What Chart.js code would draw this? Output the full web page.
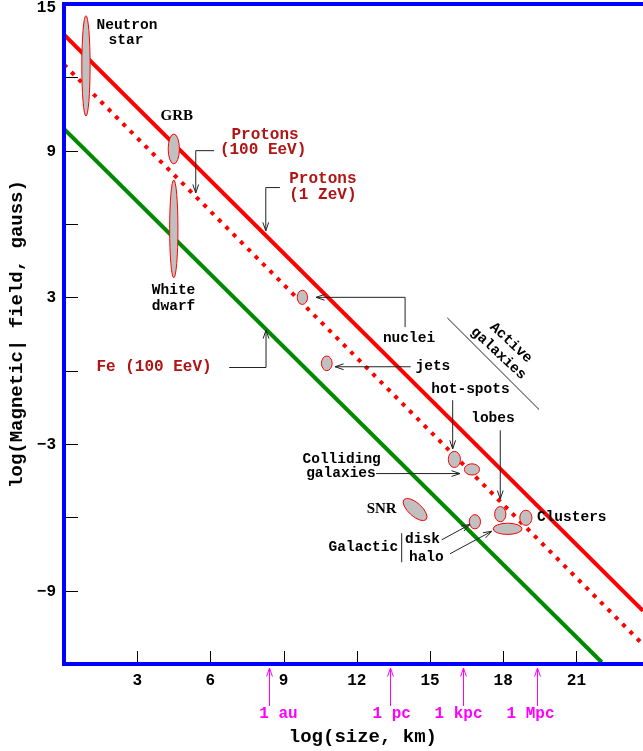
<!DOCTYPE html>
<html>
<head>
<meta charset="utf-8">
<script src="https://cdn.jsdelivr.net/npm/chart.js@4.4.0/dist/chart.umd.min.js"></script>
<style>
  html, body { margin: 0; padding: 0; background: #fff; }
  #wrap { width: 643px; height: 751px; }
</style>
</head>
<body>
<div id="wrap"><canvas id="hillas" width="643" height="751"></canvas></div>
<script>
// Hillas plot: log(size, km) vs log(B, gauss)

// maximum-energy lines (end points)
const protons1ZeVX = [0, 23.73];
const protons1ZeVY = [13.75, -9.82];
const protons100EeVX = [0, 23.73];
const protons100EeVY = [12.52, -11.2];
const fe100EeVX = [0, 22.04];
const fe100EeVY = [9.89, -11.93];

// source classes: centre and half extent
const sourceNames = ['Neutron star', 'GRB', 'White dwarf', 'AGN nuclei', 'AGN jets', 'hot-spots',
  'Colliding galaxies', 'lobes', 'Clusters', 'Galactic disk', 'Galactic halo', 'SNR'];
const sourceSize = [0.90, 4.50, 4.50, 9.77, 10.77, 16.00, 16.72, 17.88, 18.93, 16.84, 18.18, 14.39];
const sourceField = [12.47, 9.07, 5.80, 3.00, 0.30, -3.63, -4.04, -5.87, -6.02, -6.18, -6.47, -5.68];
const sourceSizeSpread = [0.17, 0.23, 0.17, 0.21, 0.22, 0.25, 0.31, 0.23, 0.25, 0.23, 0.59, 0.61];
const sourceFieldSpread = [2.05, 0.61, 2.0, 0.29, 0.30, 0.33, 0.23, 0.31, 0.31, 0.29, 0.23, 0.27];
const sourceTilt = [0, 0, 0, 0, 0, 0, 0, 0, 0, 0, 0, 42];

// reference lengths marked under the axis
const refNames = ['1 au', '1 pc', '1 kpc', '1 Mpc'];
const refSize = [8.41, 13.36, 16.37, 19.39];
const refLabelSize = [8.79, 13.43, 16.17, 19.12];

// ticks
const xTickValues = [3, 6, 9, 12, 15, 18, 21];
const yTickValues = [15, 12, 9, 6, 3, 0, -3, -6, -9];
const yTickLabels = [15, 9, 3, -3, -9];

const MONO = '"Liberation Mono", "DejaVu Sans Mono", monospace';
const SERIF = '"Liberation Serif", "DejaVu Serif", serif';
const DARKRED = '#b01414';

// text annotations (placed in data units)
const notes = [
  { t: 'Neutron', x: 2.58, y: 14.13 }, { t: 'star', x: 2.54, y: 13.52 },
  { t: 'GRB', x: 4.62, y: 10.40, serif: true },
  { t: 'White', x: 4.49, y: 3.30 }, { t: 'dwarf', x: 4.49, y: 2.64 },
  { t: 'nuclei', x: 14.14, y: 1.32 }, { t: 'jets', x: 15.12, y: 0.16 },
  { t: 'hot-spots', x: 16.66, y: -0.76 }, { t: 'lobes', x: 17.58, y: -1.96 },
  { t: 'Colliding', x: 11.38, y: -3.64 }, { t: 'galaxies', x: 11.35, y: -4.21 },
  { t: 'SNR', x: 13.02, y: -5.68, serif: true },
  { t: 'Clusters', x: 20.81, y: -6.02 },
  { t: 'Galactic', x: 12.27, y: -7.22 }, { t: 'disk', x: 14.69, y: -6.92 }, { t: 'halo', x: 14.85, y: -7.63 },
  { t: 'Protons', x: 8.24, y: 9.65, red: true }, { t: '(100 EeV)', x: 8.16, y: 9.04, red: true },
  { t: 'Protons', x: 10.61, y: 7.84, red: true }, { t: '(1 ZeV)', x: 10.61, y: 7.19, red: true },
  { t: 'Fe (100 EeV)', x: 3.69, y: 0.16, red: true },
  { t: 'Active', x: 18.31, y: 1.14, rot: 43 }, { t: 'galaxies', x: 17.80, y: 0.70, rot: 43 }
];

// pointer lines (data units), arrow head at last point
const pointers = [
  { pts: [[6.15, 9.0], [5.40, 9.0], [5.40, 7.27]], head: true },
  { pts: [[8.85, 7.49], [8.27, 7.49], [8.27, 5.72]], head: true },
  { pts: [[6.77, 0.13], [8.28, 0.13], [8.28, 1.66]], head: true },
  { pts: [[13.98, 1.78], [13.98, 3.0], [10.33, 3.0]], head: true },
  { pts: [[14.21, 0.16], [11.11, 0.16]], head: true },
  { pts: [[15.93, -1.21], [15.93, -3.2]], head: true },
  { pts: [[17.88, -2.44], [17.88, -5.25]], head: true },
  { pts: [[12.79, -4.21], [16.23, -4.21]], head: true },
  { pts: [[15.48, -6.92], [16.64, -6.29]], head: true },
  { pts: [[15.82, -7.49], [17.53, -6.57]], head: true },
  { pts: [[13.84, -6.65], [13.84, -7.84]], head: false },
  { pts: [[15.71, 2.16], [19.47, -1.59]], head: false }
];

function toPts(xs, ys) {
  return xs.map((v, i) => ({ x: v, y: ys[i] }));
}

function drawArrow(ctx, pts, head) {
  ctx.beginPath();
  ctx.moveTo(pts[0][0], pts[0][1]);
  for (let i = 1; i < pts.length; i++) ctx.lineTo(pts[i][0], pts[i][1]);
  ctx.stroke();
  if (!head) return;
  const [x1, y1] = pts[pts.length - 2];
  const [x2, y2] = pts[pts.length - 1];
  const a = Math.atan2(y2 - y1, x2 - x1);
  ctx.beginPath();
  ctx.moveTo(x2 - 9 * Math.cos(a - 0.33), y2 - 9 * Math.sin(a - 0.33));
  ctx.lineTo(x2, y2);
  ctx.lineTo(x2 - 9 * Math.cos(a + 0.33), y2 - 9 * Math.sin(a + 0.33));
  ctx.stroke();
}

const hillasOverlay = {
  id: 'hillasOverlay',
  afterDatasetsDraw(chart) {
    const { ctx, chartArea: area, scales: { x, y } } = chart;
    const px = v => x.getPixelForValue(v);
    const py = v => y.getPixelForValue(v);
    const ux = px(1) - px(0);
    const uy = py(0) - py(1);
    ctx.save();

    // sources
    sourceNames.forEach((n, i) => {
      ctx.beginPath();
      ctx.ellipse(px(sourceSize[i]), py(sourceField[i]), sourceSizeSpread[i] * ux,
        sourceFieldSpread[i] * uy, sourceTilt[i] * Math.PI / 180, 0, 2 * Math.PI);
      ctx.fillStyle = '#c0c0c0';
      ctx.fill();
      ctx.strokeStyle = '#ff0000';
      ctx.lineWidth = 1;
      ctx.stroke();
    });

    // pointers
    ctx.strokeStyle = '#222';
    ctx.lineWidth = 1;
    pointers.forEach(p => {
      drawArrow(ctx, p.pts.map(q => [px(q[0]), py(q[1])]), p.head);
    });

    // labels
    ctx.textAlign = 'center';
    ctx.textBaseline = 'middle';
    notes.forEach(n => {
      ctx.save();
      ctx.translate(px(n.x), py(n.y));
      if (n.rot) ctx.rotate(n.rot * Math.PI / 180);
      if (n.serif) ctx.font = 'bold 15px ' + SERIF;
      else if (n.red) ctx.font = 'bold 16px ' + MONO;
      else ctx.font = 'bold 14.5px ' + MONO;
      ctx.fillStyle = n.red ? DARKRED : '#000';
      ctx.fillText(n.t, 0, 0);
      ctx.restore();
    });

    // inner tick marks
    ctx.strokeStyle = '#000';
    ctx.lineWidth = 1;
    ctx.beginPath();
    yTickValues.forEach(v => {
      if (v >= 15) return;
      const yy = Math.round(py(v)) + 0.5;
      ctx.moveTo(area.left, yy);
      ctx.lineTo(area.left + 14, yy);
    });
    xTickValues.forEach(v => {
      const xx = Math.round(px(v)) + 0.5;
      ctx.moveTo(xx, area.bottom);
      ctx.lineTo(xx, area.bottom - 13);
    });
    ctx.stroke();

    // y tick labels
    ctx.font = 'bold 16px ' + MONO;
    ctx.fillStyle = '#000';
    ctx.textAlign = 'right';
    yTickLabels.forEach(v => {
      const yy = Math.max(py(v) + 1, area.top + 4);
      ctx.fillText(v < 0 ? '\u2212' + Math.abs(v) : String(v), area.left - 8, yy);
    });

    // blue frame
    ctx.strokeStyle = '#0000ff';
    ctx.lineWidth = 4;
    ctx.beginPath();
    ctx.moveTo(area.right + 2, area.top);
    ctx.lineTo(area.left, area.top);
    ctx.lineTo(area.left, area.bottom);
    ctx.lineTo(area.right + 2, area.bottom);
    ctx.stroke();

    // reference lengths
    ctx.strokeStyle = '#ff00ff';
    ctx.fillStyle = '#ff00ff';
    ctx.lineWidth = 1;
    ctx.font = 'bold 16px ' + MONO;
    ctx.textAlign = 'center';
    refNames.forEach((n, i) => {
      const xx = Math.round(px(refSize[i])) + 0.5;
      drawArrow(ctx, [[xx, area.bottom + 42], [xx, area.bottom + 4]], true);
      ctx.fillText(n, px(refLabelSize[i]), area.bottom + 50);
    });

    // x axis title
    ctx.fillStyle = '#000';
    ctx.font = 'bold 19px ' + MONO;
    ctx.fillText('log(size, km)', px(12.25), area.bottom + 73);
    ctx.restore();
  }
};

new Chart(document.getElementById('hillas'), {
  type: 'scatter',
  data: {
    datasets: [
      { label: 'Protons (1 ZeV)', data: toPts(protons1ZeVX, protons1ZeVY), showLine: true,
        borderColor: '#ff0000', borderWidth: 4, pointRadius: 0, clip: 0 },
      { label: 'Protons (100 EeV)', data: toPts(protons100EeVX, protons100EeVY), showLine: true,
        borderColor: '#ff0000', borderWidth: 4, borderDash: [4, 6.4], pointRadius: 0, clip: 0 },
      { label: 'Fe (100 EeV)', data: toPts(fe100EeVX, fe100EeVY), showLine: true,
        borderColor: '#008a00', borderWidth: 4, pointRadius: 0, clip: 0 }
    ]
  },
  options: {
    responsive: false,
    animation: false,
    devicePixelRatio: 1,
    layout: { padding: { top: 4, right: 0, bottom: 0, left: 0 } },
    plugins: { legend: { display: false }, tooltip: { enabled: false } },
    scales: {
      x: {
        type: 'linear',
        min: 0,
        max: 23.73,
        afterFit: s => { s.height = 87; },
        afterBuildTicks: s => { s.ticks = xTickValues.map(v => ({ value: v })); },
        grid: { display: false, drawTicks: false },
        border: { display: false },
        ticks: { color: '#000', padding: 7, font: { family: MONO, size: 16, weight: 'bold' } },
        title: { display: false }
      },
      y: {
        type: 'linear',
        min: -12,
        max: 15,
        afterFit: s => { s.width = 64; },
        grid: { display: false, drawTicks: false },
        border: { display: false },
        ticks: { display: false },
        title: { display: true, text: 'log(Magnetic| field, gauss)', color: '#000', padding: { top: 6, bottom: 0 },
          font: { family: MONO, size: 19, weight: 'bold' } }
      }
    }
  },
  plugins: [hillasOverlay]
});
</script>
</body>
</html>
